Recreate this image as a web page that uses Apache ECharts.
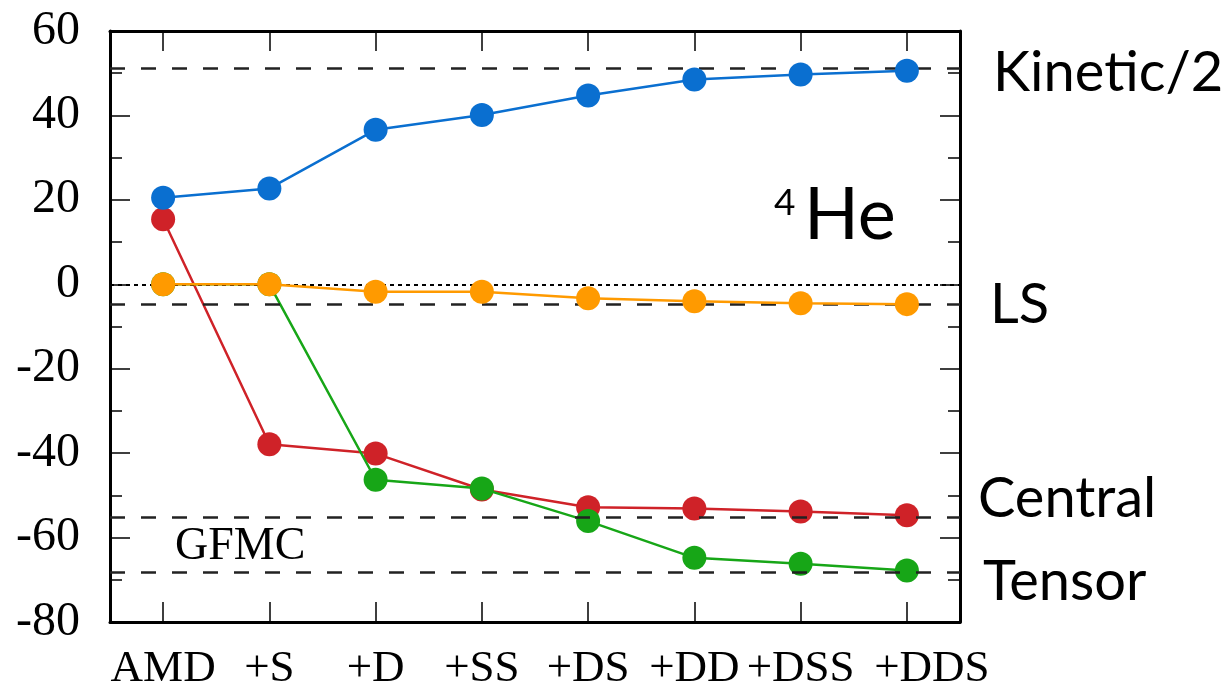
<!DOCTYPE html>
<html>
<head>
<meta charset="utf-8">
<script src="https://cdn.jsdelivr.net/npm/echarts@6/dist/echarts.min.js"></script>
<style>
  html, body { margin: 0; padding: 0; background: #fff; }
  #chart { width: 1228px; height: 692px; }
</style>
</head>
<body>
<div id="chart"></div>
<script>
// Truncation steps of the AMD basis
const categories = ['AMD', '+S', '+D', '+SS', '+DS', '+DD', '+DSS', '+DDS'];

// Energy components of 4He (MeV)
const kineticHalf = [20.5, 22.7, 36.6, 40.1, 44.7, 48.5, 49.7, 50.6];
const centralE    = [15.4, -37.9, -40.1, -48.6, -52.8, -53.1, -53.8, -54.7];
const tensorE     = [0, 0, -46.3, -48.4, -56.1, -64.8, -66.2, -67.8];
const lsE         = [0, 0, -1.75, -1.75, -3.3, -4.0, -4.5, -4.7];

// GFMC reference values
const gfmcKineticHalf = 51.2;
const gfmcLS = -4.75;
const gfmcCentral = -55.3;
const gfmcTensor = -68.3;

// Y axis range and tick step
const yMin = -80, yMax = 60, yStep = 20;

const SERIF = '"Liberation Serif", "DejaVu Serif", serif';
const SANS = 'Lato, "Open Sans", sans-serif';

const chart = echarts.init(document.getElementById('chart'), null, { renderer: 'canvas' });

const axisLineStyle = { color: '#000', width: 3 };
const tickStyle = { color: '#000', width: 1.5 };

function refLine(value) {
  return {
    yAxis: value,
    lineStyle: { color: '#222', width: 2.5, type: [15, 16] }
  };
}

function lineSeries(name, data, color, z) {
  return {
    name: name,
    type: 'line',
    data: data,
    z: z,
    symbol: 'circle',
    symbolSize: 24,
    showSymbol: true,
    lineStyle: { color: color, width: 2.5 },
    itemStyle: { color: color },
    emphasis: { disabled: true },
    animation: false
  };
}

const central = lineSeries('Central', centralE, '#cf2228', 3);
central.markLine = {
  silent: true,
  symbol: 'none',
  label: { show: false },
  animation: false,
  data: [
    refLine(gfmcKineticHalf),
    refLine(gfmcLS),
    refLine(gfmcCentral),
    refLine(gfmcTensor),
    { yAxis: 0, lineStyle: { color: '#000', width: 2, type: [4, 4] } }
  ]
};

const lastCategory = categories[categories.length - 1];

function xAxisDef(position, showLabels) {
  return {
    type: 'category',
    data: categories,
    position: position,
    boundaryGap: true,
    axisLine: { onZero: false, lineStyle: axisLineStyle },
    axisTick: { show: true, inside: true, length: 20, alignWithLabel: true, lineStyle: tickStyle },
    axisLabel: {
      show: showLabels, color: '#000', fontFamily: SERIF, fontSize: 45, margin: 25, interval: 0,
      // the last label is nudged right so it does not run into its neighbour
      formatter: function (v) { return v === lastCategory ? '{last|' + v + '}' : v; },
      rich: { last: { fontFamily: SERIF, fontSize: 45, color: '#000', padding: [0, 0, 0, 50] } }
    },
    splitLine: { show: false }
  };
}

function yAxisDef(position, showLabels) {
  return {
    type: 'value',
    position: position,
    min: yMin, max: yMax, interval: yStep,
    axisLine: { show: true, onZero: false, lineStyle: axisLineStyle },
    axisTick: { show: true, inside: true, length: 20, lineStyle: tickStyle },
    minorTick: { show: true, splitNumber: 2, length: 12, lineStyle: tickStyle },
    axisLabel: { show: showLabels, color: '#000', fontFamily: SERIF, fontSize: 48, margin: 30 },
    splitLine: { show: false }
  };
}

const option = {
  backgroundColor: '#fff',
  animation: false,
  grid: { left: 110, right: 268, top: 31, bottom: 70, containLabel: false },
  xAxis: [xAxisDef('bottom', true), xAxisDef('top', false)],
  yAxis: [yAxisDef('left', true), yAxisDef('right', false)],
  series: [
    central,
    lineSeries('Tensor', tensorE, '#17a617', 4),
    lineSeries('LS', lsE, '#ff9a00', 5),
    lineSeries('Kinetic/2', kineticHalf, '#0a6fd0', 6)
  ],
  graphic: [
    { type: 'text', left: 993, top: 45, style: { text: 'Kinetic/2', font: '56px ' + SANS, fill: '#000' } },
    { type: 'text', left: 990, top: 277, style: { text: 'LS', font: '56px ' + SANS, fill: '#000' } },
    { type: 'text', left: 978, top: 471, style: { text: 'Central', font: '56px ' + SANS, fill: '#000' } },
    { type: 'text', left: 983, top: 554, style: { text: 'Tensor', font: '56px ' + SANS, fill: '#000' } },
    { type: 'text', left: 774, top: 185, style: { text: '4', font: '37px ' + SANS, fill: '#000' } },
    { type: 'text', left: 804, top: 180, style: { text: 'He', font: '72px ' + SANS, fill: '#000' } },
    { type: 'text', left: 175, top: 524, style: { text: 'GFMC', font: '46px ' + SERIF, fill: '#000' } }
  ]
};

chart.setOption(option);
</script>
</body>
</html>
